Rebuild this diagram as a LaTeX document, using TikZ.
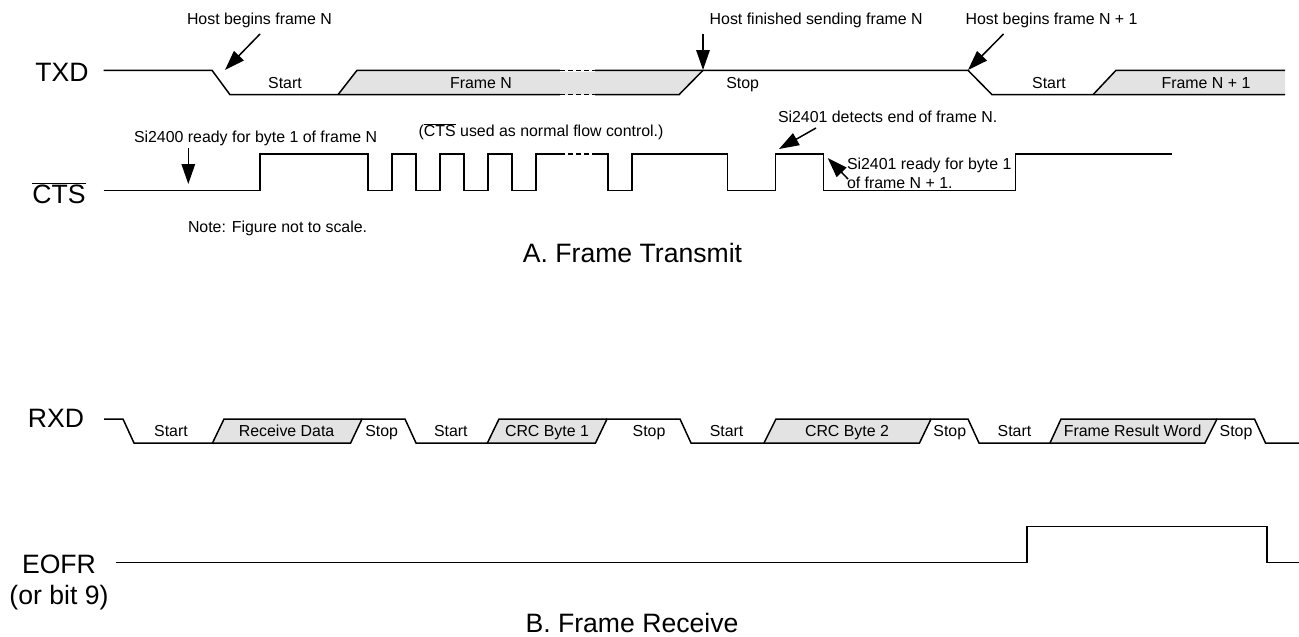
\documentclass[tikz,border=0pt]{standalone}
\usepackage{fontspec}
\setmainfont{Liberation Sans}
\usetikzlibrary{arrows.meta}
\newcommand{\smallfs}{\fontsize{15.9}{19}\selectfont}
\newcommand{\bigfs}{\fontsize{26.6}{31}\selectfont}
\newcommand{\ovl}[1]{$\overline{\mbox{#1}}$}
\tikzset{
  x=1pt,y=-1pt,
  wave/.style={line width=1.5pt,line join=miter,black},
  waveend/.style={wave,dash pattern=on 5pt off 3pt},
  cell/.style={fill=black!11,draw=none},
  note/.style={inner sep=0pt,outer sep=0pt,font=\smallfs,text height=11.4pt,text depth=0pt},
  signame/.style={inner sep=0pt,outer sep=0pt,font=\bigfs,text height=19pt,text depth=0pt},
  pointer/.style={line width=1.5pt,-{Triangle[length=20pt,width=13.5pt]}},
}
\begin{document}
\begin{tikzpicture}
\useasboundingbox (0,0) rectangle (1299,637);
% ---- fills
\fill[cell] (338,94.7) -- (357,70.3) -- (703,70.3) -- (679,94.7) -- cycle;
\fill[white] (560,69) rectangle (595,72);
\fill[cell] (1093,94.7) -- (1116,70.3) -- (1285,70.3) -- (1285,94.7) -- cycle;
\fill[cell] (212.5,443) -- (224,419) -- (362,419) -- (350.6,443) -- cycle;
\fill[cell] (487.4,443) -- (499,419) -- (607,419) -- (595.5,443) -- cycle;
\fill[cell] (764,443) -- (776,419) -- (931,419) -- (919.5,443) -- cycle;
\fill[cell] (1050,443) -- (1061,419) -- (1217,419) -- (1205,443) -- cycle;
% ---- TXD
\draw[wave] (103.7,70.3) -- (212,70.3) -- (230,94.7) -- (560,94.7);
\draw[waveend] (560,94.7) -- (595,94.7);
\draw[wave] (595,94.7) -- (679,94.7) -- (703,70.3);
\draw[wave] (338,94.7) -- (357,70.3) -- (560,70.3);
\draw[waveend] (560,70.3) -- (595,70.3);
\draw[wave] (595,70.3) -- (968,70.3) -- (992,94.7) -- (1285,94.7);
\draw[wave] (1093,94.7) -- (1116,70.3) -- (1285,70.3);
% ---- CTS
\draw[wave] (103.7,190.7) -- (260,190.7) -- (260,154) -- (368,154) -- (368,190.7) -- (392,190.7) -- (392,154)
  -- (416,154) -- (416,190.7) -- (440,190.7) -- (440,154) -- (464,154) -- (464,190.7) -- (488,190.7) -- (488,154)
  -- (512,154) -- (512,190.7) -- (536,190.7) -- (536,154) -- (560,154);
\draw[waveend] (560,154) -- (597,154);
\draw[wave] (597,154) -- (608,154) -- (608,190.7) -- (632,190.7) -- (632,154) -- (727.7,154) -- (727.7,190.7)
  -- (775.7,190.7) -- (775.7,154) -- (823.7,154) -- (823.7,190.7) -- (1015.7,190.7) -- (1015.7,154) -- (1171.7,154);
% ---- RXD
\draw[wave] (104,419) -- (123,419) -- (134,443) -- (350.6,443) -- (362,419) -- (405,419) -- (416,443) -- (595.5,443)
  -- (607,419) -- (680,419) -- (691,443) -- (919.5,443) -- (931,419) -- (968,419) -- (979,443) -- (1205,443)
  -- (1217,419) -- (1254.5,419) -- (1265.5,443) -- (1299,443);
\draw[wave] (212.5,443) -- (224,419) -- (362,419);
\draw[wave] (487.4,443) -- (499,419) -- (607,419);
\draw[wave] (764,443) -- (776,419) -- (931,419);
\draw[wave] (1050,443) -- (1061,419) -- (1217,419);
% ---- EOFR
\draw[wave] (115.5,562.7) -- (1027,562.7) -- (1027,526.7) -- (1267,526.7) -- (1267,562.7) -- (1299,562.7);
% ---- signal names
\node[signame] (txd) at (62,71.5) {TXD};
\node[signame] (cts) at (59,194) {\ovl{CTS}};
\node[signame] (rxd) at (56,418) {RXD};
\node[signame] (eofr) at (59,564) {EOFR};
\node[signame] (bit9) at (59,595) {(or bit 9)};
\node[signame] (capa) at (632.5,253) {A. Frame Transmit};
\node[signame] (capb) at (632,623) {B. Frame Receive};
% ---- cell labels
\foreach \nm/\px/\py/\tx in {
  l1/285/82.7/Start, l2/481/82.7/Frame N, l3/742.7/82.7/Stop, l4/1049/82.7/Start, l5/1206/82.7/Frame N + 1,
  r1/171/430.7/Start, r2/286.6/430.7/Receive Data, r3/381.7/430.7/Stop, r4/450.8/430.7/Start, r5/547/430.7/CRC Byte 1,
  r6/649/430.7/Stop, r7/726.6/430.7/Start, r8/847/430.7/CRC Byte 2, r9/949.8/430.7/Stop, r10/1014.5/430.7/Start,
  r11/1132.6/430.7/Frame Result Word, r12/1236/430.7/Stop}
  {\node[note] (\nm) at (\px,\py) {\tx};}
% ---- notes
\node[note,anchor=west] (n1) at (187,18.7) {Host begins frame N};
\node[note,anchor=west] (n2) at (709.7,18.7) {Host finished sending frame N};
\node[note,anchor=west] (n3) at (965.6,18.7) {Host begins frame N + 1};
\node[note,anchor=west] (n4) at (134,137) {Si2400 ready for byte 1 of frame N};
\node[note,anchor=west] (n5) at (418.7,130.7) {(\ovl{CTS} used as normal flow control.)};
\node[note,anchor=west] (n6) at (778,117) {Si2401 detects end of frame N.};
\node[note,anchor=west] (n7) at (847,163.7) {Si2401 ready for byte 1};
\node[note,anchor=west] (n8) at (847,182.7) {of frame N + 1.};
\node[note,anchor=west] (n9) at (188,226.7) {Note: Figure not to scale.};
% ---- pointers
\coordinate (a1s) at (260,34);   \coordinate (a1e) at (225,70);
\coordinate (a2s) at (703,34);   \coordinate (a2e) at (703,70);
\coordinate (a3s) at (1003.5,34);\coordinate (a3e) at (968,70);
\coordinate (a4s) at (188.3,148);\coordinate (a4e) at (188.3,184);
\coordinate (a5s) at (816,128);  \coordinate (a5e) at (779,149);
\coordinate (a6s) at (848,179);  \coordinate (a6e) at (827.7,158);
\foreach \n in {1,...,6} \draw[pointer] (a\n s) -- (a\n e);
\end{tikzpicture}
\end{document}
